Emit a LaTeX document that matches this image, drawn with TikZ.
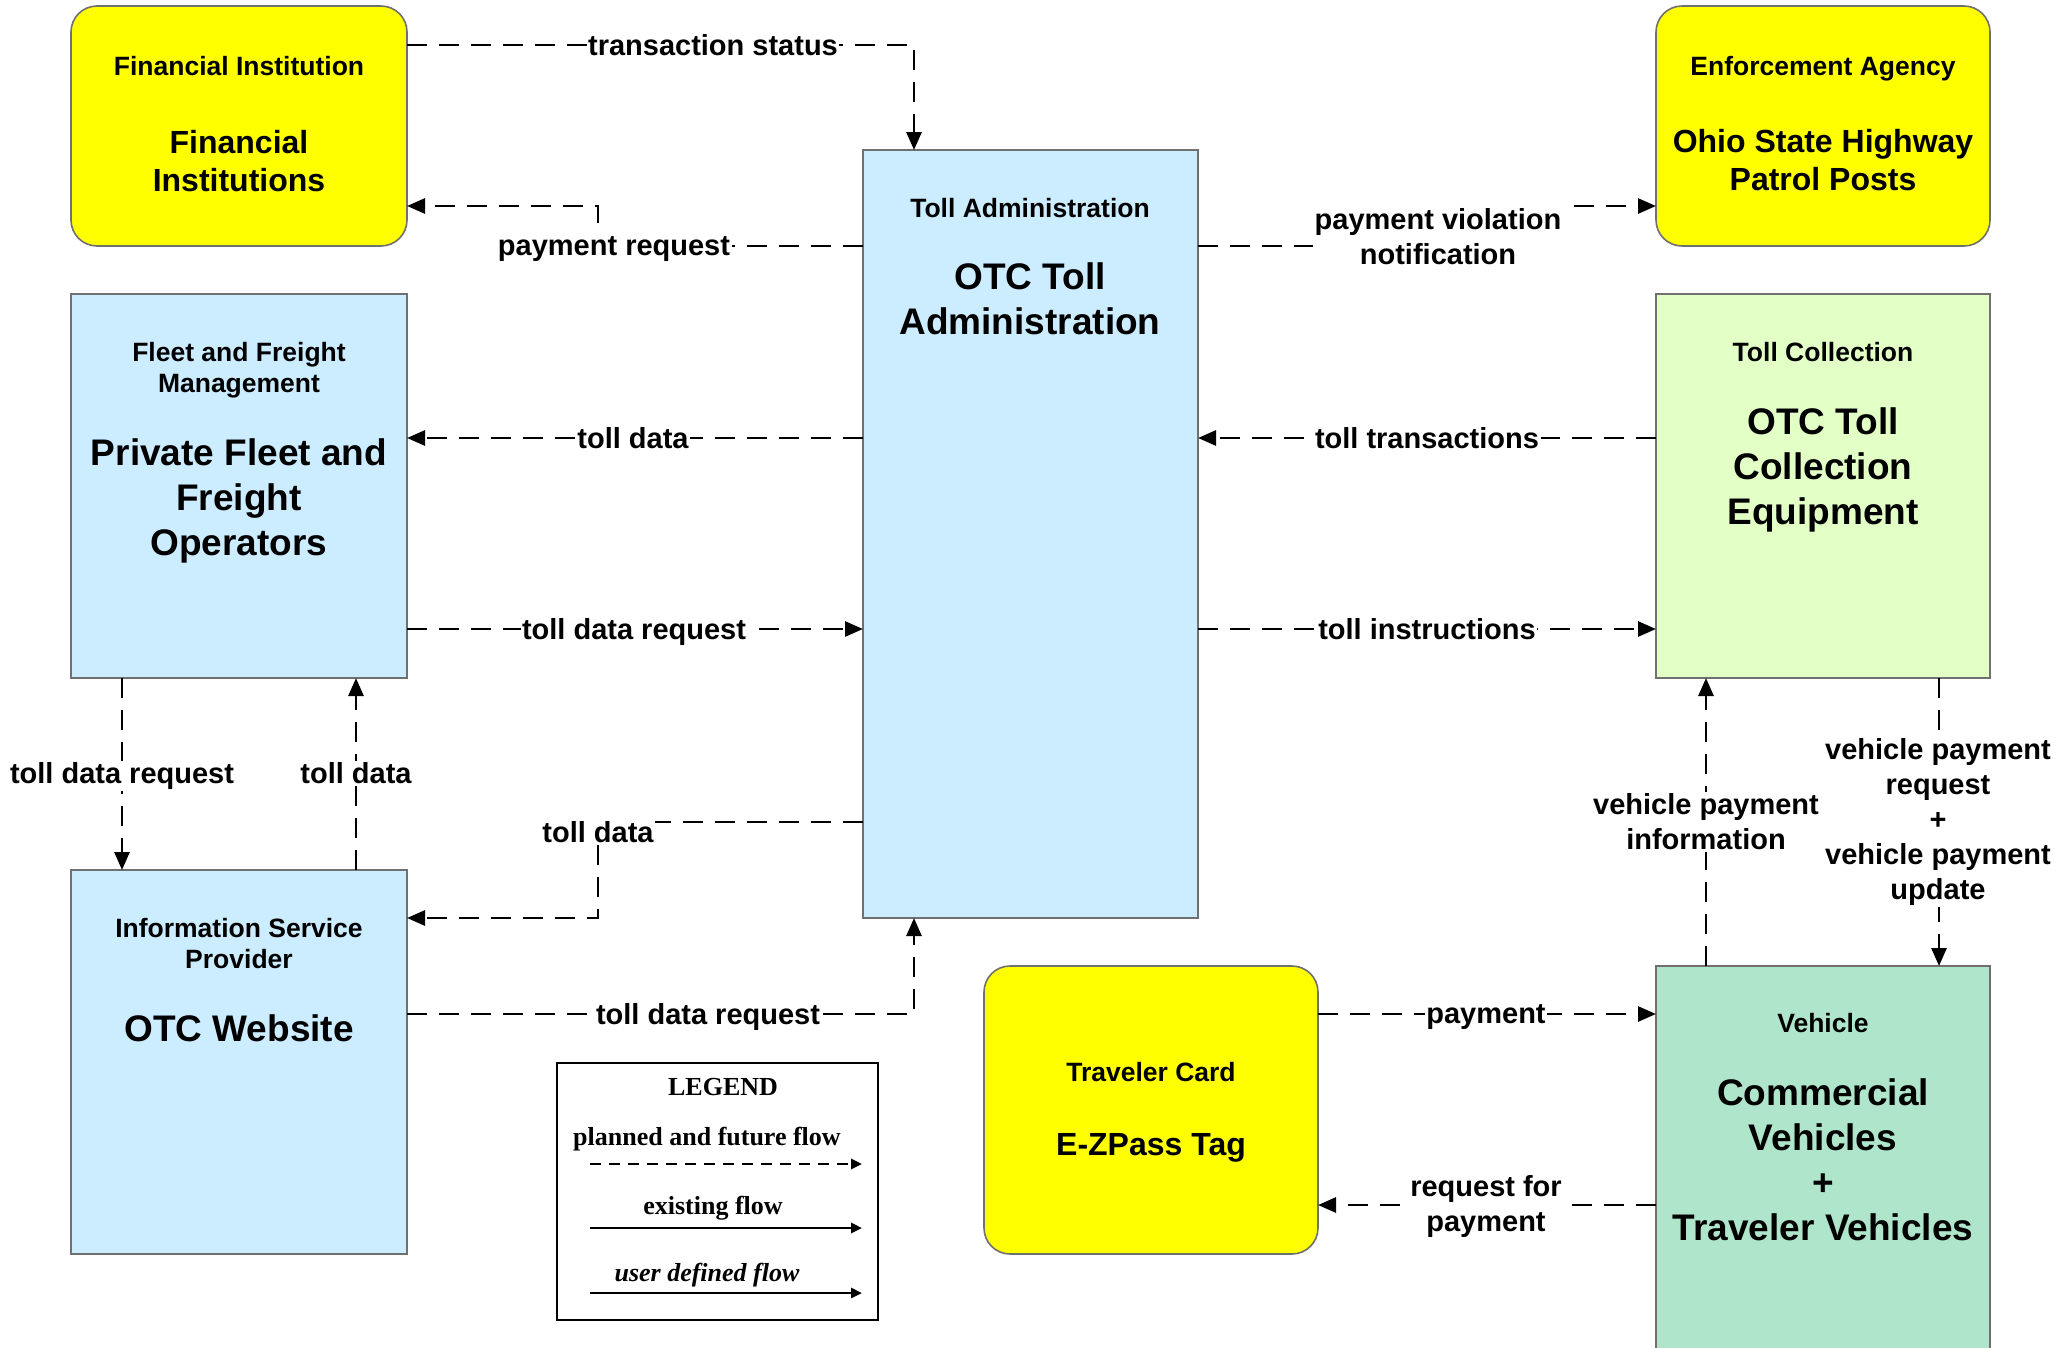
\documentclass[tikz,border=0pt]{standalone}
\usepackage{fontspec}
\setmainfont{Liberation Sans}
\newfontfamily\legfont{Liberation Serif}
\usetikzlibrary{arrows.meta}
\definecolor{ylw}{HTML}{FFFF00}
\definecolor{lblue}{HTML}{CCECFF}
\definecolor{lgreen}{HTML}{E2FFC5}
\definecolor{mint}{HTML}{AFE5CB}
\definecolor{edgegray}{HTML}{707070}
\begin{document}
\begin{tikzpicture}[x=1pt,y=-1pt,
 box/.style={draw=edgegray, line width=1.6pt, inner sep=0pt, outer sep=0pt, anchor=north west},
 rbox/.style={box, rounded corners=26pt},
 small/.style={font=\fontsize{26.5}{31}\selectfont\bfseries, align=center, inner sep=0pt},
 bigY/.style={font=\fontsize{32}{38.5}\selectfont\bfseries, align=center, inner sep=0pt},
 bigB/.style={font=\fontsize{37}{45}\selectfont\bfseries, align=center, inner sep=0pt},
 lbl/.style={font=\fontsize{29}{35}\selectfont\bfseries, align=center, fill=white, inner sep=1.5pt},
 flow/.style={line width=2.8pt, dash pattern=on 20pt off 12pt, -{Triangle[length=18pt,width=15pt]}},
 legtext/.style={font=\legfont\fontsize{26}{30}\selectfont\bfseries, inner sep=0pt},
 legarrow/.style={line width=2.5pt, -{Triangle[length=11pt,width=10pt]}},
]
\useasboundingbox (0,0) rectangle (2066,1347);

% ---------- boxes ----------
\node[rbox, fill=ylw, minimum width=336pt, minimum height=240pt] (fin) at (71,6) {};
\node[rbox, fill=ylw, minimum width=334pt, minimum height=240pt] (enf) at (1656,6) {};
\node[box, fill=lblue, minimum width=335pt, minimum height=768pt] (admin) at (863,150) {};
\node[box, fill=lblue, minimum width=336pt, minimum height=384pt] (fleet) at (71,294) {};
\node[box, fill=lgreen, minimum width=334pt, minimum height=384pt] (coll) at (1656,294) {};
\node[box, fill=lblue, minimum width=336pt, minimum height=384pt] (isp) at (71,870) {};
\node[rbox, fill=ylw, minimum width=334pt, minimum height=288pt] (card) at (984,966) {};
\node[box, fill=mint, minimum width=334pt, minimum height=392pt] (veh) at (1656,966) {};

% ---------- box texts ----------
\node[small] (finS) at (239,66) {Financial Institution};
\node[bigY] (finB) at (239,161) {Financial\\Institutions};
\node[small] (enfS) at (1823,69) {Enforcement Agency};
\node[bigY] (enfB) at (1823,160) {Ohio State Highway\\Patrol Posts};
\node[small] (adminS) at (1030,208) {Toll Administration};
\node[bigB] (adminB) at (1030,299) {OTC Toll\\Administration};
\node[small] (fleetS) at (239,370) {Fleet and Freight\\Management};
\node[bigB] (fleetB) at (239,501) {Private Fleet and\\Freight\\Operators};
\node[small] (collS) at (1823,352) {Toll Collection};
\node[bigB] (collB) at (1823,470) {OTC Toll\\Collection\\Equipment};
\node[small] (ispS) at (239,944) {Information Service\\Provider};
\node[bigB] (ispB) at (239,1028) {OTC Website};
\node[small] (cardS) at (1151,1072) {Traveler Card};
\node[bigY] (cardB) at (1151,1148) {E-ZPass Tag};
\node[small] (vehS) at (1823,1023) {Vehicle};
\node[bigB] (vehB) at (1823,1160) {Commercial\\Vehicles\\+\\Traveler Vehicles};

% ---------- helper coordinates ----------
\coordinate (tsc) at (914,45);
\coordinate (prA) at (598,246);
\coordinate (prB) at (598,206);
\coordinate (tdA) at (0,438);
\coordinate (tdrA) at (0,629);
\coordinate (tiA) at (598,822);
\coordinate (tiB) at (598,918);
\coordinate (irA) at (914,1014);
\coordinate (fiX) at (122,0);
\coordinate (ifX) at (356,0);
\coordinate (pvA) at (1438,246);
\coordinate (pvB) at (1438,206);
\coordinate (vpX) at (1706,0);
\coordinate (vrX) at (1939,0);
\coordinate (payY) at (0,1014);
\coordinate (rfpY) at (0,1205);

% ---------- flows ----------
\draw[flow] (fin.east |- tsc) -- (tsc) -- (admin.north -| tsc);
\node[lbl] (tsl) at (713,45) {transaction status};

\draw[flow] (admin.west |- prA) -- (prA) -- (prB) -- (fin.east |- prB);
\node[lbl] (prl) at (614,249) {payment request};

\draw[flow] (admin.west |- tdA) -- (fleet.east |- tdA);
\node[lbl] (tdl) at (633,438) {toll data};

\draw[flow] (fleet.east |- tdrA) -- (admin.west |- tdrA);
\node[lbl] (tdrl) at (634,632) {toll data request};

\draw[flow] (admin.west |- tiA) -- (tiA) -- (tiB) -- (isp.east |- tiB);
\node[lbl] (til) at (598,832) {toll data};

\draw[flow] (isp.east |- irA) -- (irA) -- (admin.south -| irA);
\node[lbl] (irl) at (708,1017) {toll data request};

\draw[flow] (fleet.south -| fiX) -- (isp.north -| fiX);
\node[lbl] (fil) at (122,776) {toll data request};

\draw[flow] (isp.north -| ifX) -- (fleet.south -| ifX);
\node[lbl] (ifl) at (356,773) {toll data};

\draw[flow] (admin.east |- pvA) -- (pvA) -- (pvB) -- (enf.west |- pvB);
\node[lbl, inner ysep=8pt] (pvl) at (1438,237) {payment violation\\notification};

\draw[flow] (coll.west |- tdA) -- (admin.east |- tdA);
\node[lbl] (ttl) at (1427,438) {toll transactions};

\draw[flow] (admin.east |- tdrA) -- (coll.west |- tdrA);
\node[lbl] (til2) at (1427,629) {toll instructions};

\draw[flow] (veh.north -| vpX) -- (coll.south -| vpX);
\node[lbl] (vpl) at (1706,822) {vehicle payment\\information};

\draw[flow] (coll.south -| vrX) -- (veh.north -| vrX);
\node[lbl] (vrl) at (1938,822) {vehicle payment\\request\\+\\vehicle payment\\update};

\draw[flow] (card.east |- payY) -- (veh.west |- payY);
\node[lbl] (payl) at (1486,1017) {payment};

\draw[flow] (veh.west |- rfpY) -- (card.east |- rfpY);
\node[lbl] (rfpl) at (1486,1206) {request for\\payment};

% ---------- legend ----------
\node[draw=black, line width=2.5pt, inner sep=0pt, outer sep=0pt, anchor=north west,
      minimum width=321pt, minimum height=257pt] (legend) at (557,1063) {};
\node[legtext] (legT) at (723,1087) {LEGEND};
\node[legtext] (leg1) at (707,1139) {planned and future flow};
\node[legtext] (leg2) at (713,1208) {existing flow};
\node[legtext, font=\legfont\fontsize{26}{30}\selectfont\bfseries\itshape] (leg3) at (707,1275) {user defined flow};
\coordinate (la1) at (590,1164);
\coordinate (lb1) at (862,1164);
\coordinate (la2) at (590,1228);
\coordinate (lb2) at (862,1228);
\coordinate (la3) at (590,1293);
\coordinate (lb3) at (862,1293);
\draw[legarrow, dash pattern=on 11pt off 8pt] (la1) -- (lb1);
\draw[legarrow] (la2) -- (lb2);
\draw[legarrow] (la3) -- (lb3);
\end{tikzpicture}
\end{document}
